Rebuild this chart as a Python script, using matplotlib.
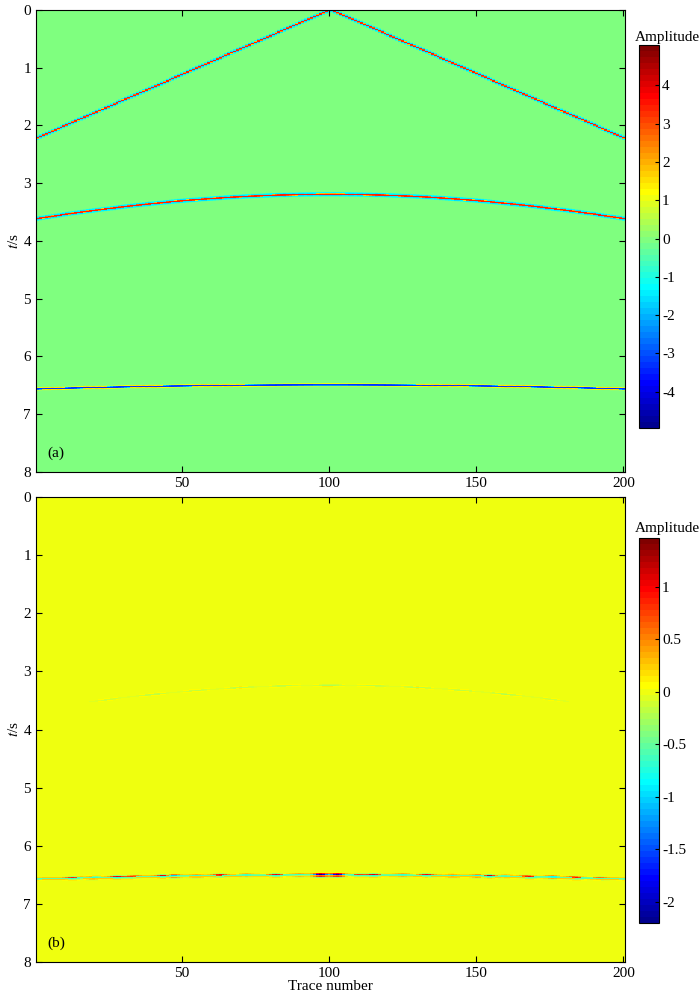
import numpy as np
import matplotlib
matplotlib.use('Agg')
import matplotlib.pyplot as plt
from matplotlib.colors import ListedColormap

plt.rcParams['font.family'] = ['Liberation Serif', 'DejaVu Serif']
plt.rcParams['mathtext.fontset'] = 'stix'
plt.rcParams['font.size'] = 11
plt.rcParams['axes.unicode_minus'] = False

# ---- data ----
n_traces = 200
t_max = 8.0
n_samples = 463
x_apex = 100.5

# panel (a): events (apex time, time at the edge traces, peak amplitude, ricker freq)
lin_apex = 0.0
lin_edge = 2.22
lin_amp = 3.4
hyp_apex = [3.20, 6.50]
hyp_edge = [3.62, 6.57]
hyp_amp = [3.4, -3.3]
freq = [20.0, 20.0, 32.0]

# panel (b): residual left after processing, along the deep event
res_base = -0.5
res_traces = [13, 20, 28, 33, 44, 47, 55, 63, 72, 82, 90, 97, 103, 110, 115,
              125, 133, 142, 151, 154, 160, 168, 176, 184, 192]
res_amps = [0.8, -0.6, 1.0, 0.7, 1.2, -1.3, -0.6, 0.9, -0.5, 1.0, -0.6, -2.1,
            -2.0, 0.7, 1.0, -0.6, 0.9, -0.6, -1.0, 1.3, -0.5, 0.9, -0.8, 0.8, 0.5]
# faint residual along the shallow hyperbola
hyp_res_traces = [25, 40, 55, 70, 85, 100, 115, 130, 145, 160, 175]
hyp_res_amps = [-0.12, -0.2, -0.15, -0.2, -0.18, -0.25, -0.18, -0.2, -0.15, -0.2, -0.12]

clim_a = (-4.95, 5.05)
clim_b = (-2.2, 1.46)
cb_ticks_a = [-4, -3, -2, -1, 0, 1, 2, 3, 4]
cb_ticks_b = [-2, -1.5, -1, -0.5, 0, 0.5, 1]
cb_ticklabels_b = ['-2', '-1.5', '-1', '-0.5', '0', '0.5', '1']


def matlab_jet(m=64):
    n = int(np.ceil(m / 4))
    u = np.concatenate([np.arange(1, n + 1) / n, np.ones(n - 1), np.arange(n, 0, -1) / n])
    g = int(np.ceil(n / 2)) - (1 if m % 4 == 1 else 0) + np.arange(1, len(u) + 1)
    r = g + n
    b = g - n
    rgb = np.zeros((m, 3))
    for ch, idx in ((0, r), (1, g), (2, b)):
        ok = (idx >= 1) & (idx <= m)
        rgb[idx[ok] - 1, ch] = u[ok]
    return ListedColormap(rgb)


def ricker(tau, f):
    a = (np.pi * f * tau) ** 2
    return (1 - 2 * a) * np.exp(-a)


def to_pixels(fine, sub):
    # keep the strongest sample inside each screen row, like a plotted trace
    blk = fine.reshape(-1, sub, fine.shape[1])
    i = np.abs(blk).argmax(axis=1)
    return np.take_along_axis(blk, i[:, None, :], axis=1)[:, 0, :]


sub = 8
x = np.arange(1, n_traces + 1)
dt = t_max / (n_samples - 1)
t = (np.arange(n_samples * sub) - sub / 2 + 0.5) * dt / sub
T, X = np.meshgrid(t, x, indexing='ij')

# panel (a)
fine_a = np.zeros_like(T)
t_lin = lin_apex + (lin_edge - lin_apex) * np.abs(X - x_apex) / (x_apex - 1)
fine_a += lin_amp * ricker(T - t_lin, freq[0])
hyp_times = []
for i in range(len(hyp_apex)):
    k = (hyp_edge[i] ** 2 - hyp_apex[i] ** 2) / (x_apex - 1) ** 2
    t_h = np.sqrt(hyp_apex[i] ** 2 + k * (X - x_apex) ** 2)
    hyp_times.append(t_h)
    fine_a += hyp_amp[i] * ricker(T - t_h, freq[i + 1])

# panel (b)
fine_b = np.zeros_like(T)
t_deep = hyp_times[1]
fine_b += res_base * ricker(T - t_deep, 30.0)
for xr, ar in zip(res_traces, res_amps):
    w = np.exp(-((X - xr) / 2.5) ** 2)
    fine_b += ar * w * ricker(T - t_deep + 0.008, 30.0)
    fine_b += -0.4 * ar * w * ricker(T - t_deep - 0.025, 30.0)
t_shal = hyp_times[0]
for xr, ar in zip(hyp_res_traces, hyp_res_amps):
    w = np.exp(-((X - xr) / 5.0) ** 2)
    fine_b += ar * w * ricker(T - t_shal - 0.05, 30.0)

data_a = to_pixels(fine_a, sub)
data_b = to_pixels(fine_b, sub)

cmap = matlab_jet(64)
fig = plt.figure(figsize=(7.0, 9.97), dpi=100)

axa = fig.add_axes([0.0514, 0.5266, 0.8414, 0.4634])
axb = fig.add_axes([0.0514, 0.0351, 0.8414, 0.4664])
caxa = fig.add_axes([0.913, 0.5707, 0.0286, 0.384])
caxb = fig.add_axes([0.913, 0.0742, 0.0286, 0.386])

ext = [0.5, n_traces + 0.5, t_max + dt / 2, -dt / 2]
ima = axa.imshow(data_a, cmap=cmap, vmin=clim_a[0], vmax=clim_a[1], aspect='auto',
                 extent=ext, interpolation='nearest')
imb = axb.imshow(data_b, cmap=cmap, vmin=clim_b[0], vmax=clim_b[1], aspect='auto',
                 extent=ext, interpolation='nearest')

for ax, lab in [(axa, '(a)'), (axb, '(b)')]:
    ax.set_xlim(0.5, n_traces + 0.5)
    ax.set_ylim(t_max, 0)
    ax.set_xticks([50, 100, 150, 200])
    ax.set_yticks(range(9))
    ax.tick_params(direction='in', top=True, right=True, length=4, width=0.8)
    ax.set_ylabel(r'$t$/s', labelpad=2)
    ax.text(4.5, 7.67, lab, va='center', ha='left')
axb.set_xlabel('Trace number', labelpad=0)

cba = fig.colorbar(ima, cax=caxa, ticks=cb_ticks_a)
cbb = fig.colorbar(imb, cax=caxb, ticks=cb_ticks_b)
cbb.ax.set_yticklabels(cb_ticklabels_b)
for cb in (cba, cbb):
    cb.ax.tick_params(direction='in', length=3, width=0.8, pad=2)
    cb.outline.set_linewidth(0.8)

fig.text(0.953, 0.962, 'Amplitude', ha='center', va='center')
fig.text(0.953, 0.470, 'Amplitude', ha='center', va='center')

fig.savefig('out.png', dpi=100)
